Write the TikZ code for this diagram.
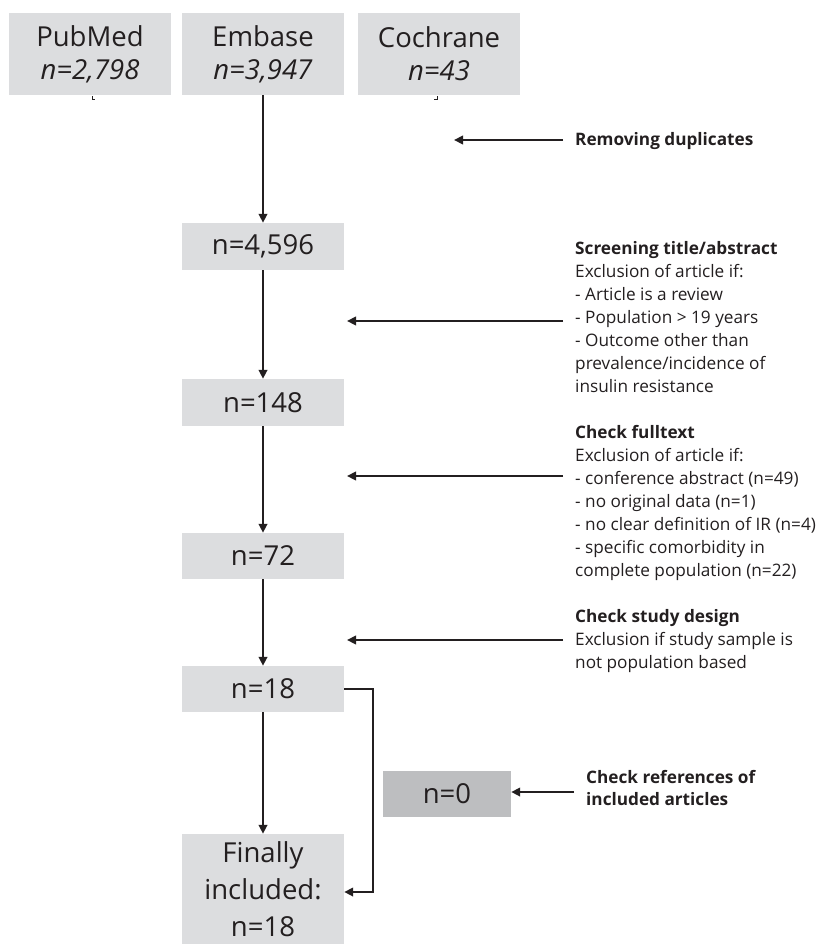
\documentclass[tikz,border=0pt]{standalone}
\usepackage{fontspec}
\setmainfont{Open Sans}
\usetikzlibrary{arrows.meta,positioning}
\definecolor{ink}{HTML}{231F20}
\definecolor{boxgray}{HTML}{DCDDDF}
\definecolor{darkgray}{HTML}{BDBEC0}

\begin{document}
\begin{tikzpicture}[x=1pt, y=-1pt,
    box/.style={fill=boxgray, text=ink, minimum width=162pt, inner sep=0pt, align=center,
        font=\fontsize{27.5}{33}\selectfont},
    note/.style={text=ink, inner sep=0pt, align=left, anchor=north west,
        font=\fontsize{17.2}{23}\selectfont},
    arr/.style={draw=ink, line width=2.6pt, -{Triangle[length=9pt,width=8.5pt]}}]
    \useasboundingbox (0,0) rectangle (828,945);
    % sources
    \node[box, minimum height=82pt] (pubmed) at (90,54) {PubMed\\\textit{n=2,798}};
    \node[box, minimum height=82pt] (embase) at (263,54) {Embase\\\textit{n=3,947}};
    \node[box, minimum height=82pt] (cochrane) at (439,54) {Cochrane\\\textit{n=43}};
    \draw[ink, line width=1pt] (92,96) -- (92,99) -- (95,99);
    \draw[ink, line width=1pt] (437,96) -- (437,99) -- (434,99);
    % main column
    \node[box, minimum height=47pt] (n4596) at (263,246.5) {n=4,596};
    \node[box, minimum height=47pt] (n148) at (263,402.5) {n=148};
    \node[box, minimum height=46pt] (n72) at (263,556) {n=72};
    \node[box, minimum height=46pt] (n18) at (263,689) {n=18};
    \node[box, minimum height=110pt, font=\fontsize{27.5}{37}\selectfont] (final) at (263,889)
        {Finally\\included:\\n=18};
    \node[box, fill=darkgray, minimum width=128pt, minimum height=46pt] (n0) at (447,794) {n=0};
    \draw[arr] (embase) -- (n4596);
    \draw[arr] (n4596) -- (n148);
    \draw[arr] (n148) -- (n72);
    \draw[arr] (n72) -- (n18);
    \draw[arr] (n18) -- (final);
    \coordinate (bend) at (373,689);
    \draw[arr] (n18.east) -- (bend) |- ([yshift=-3pt]final.east);
    % exclusion steps
    \node[note, anchor=west] (dup) at (575,141) {\textbf{Removing duplicates}};
    \coordinate (dupStart) at (563,140);
    \coordinate (dupTip) at (454,140);
    \draw[arr] (dupStart) -- (dupTip);
    \node[note] (screen) at (575,241) {\textbf{Screening title/abstract}\\Exclusion of article if:\\
        - Article is a review\\- Population > 19 years\\- Outcome other than\\
        prevalence/incidence of\\insulin resistance};
    \coordinate (screenStart) at (563,321);
    \coordinate (screenTip) at (347,321);
    \draw[arr] (screenStart) -- (screenTip);
    \node[note] (full) at (575,425) {\textbf{Check fulltext}\\Exclusion of article if:\\
        - conference abstract (n=49)\\- no original data (n=1)\\
        - no clear definition of IR (n=4)\\- specific comorbidity in\\
        complete population (n=22)};
    \coordinate (fullStart) at (563,476);
    \coordinate (fullTip) at (347,476);
    \draw[arr] (fullStart) -- (fullTip);
    \node[note] (design) at (575,609) {\textbf{Check study design}\\
        Exclusion if study sample is\\not population based};
    \coordinate (designStart) at (563,640);
    \coordinate (designTip) at (347,640);
    \draw[arr] (designStart) -- (designTip);
    \node[note, font=\bfseries\fontsize{17.2}{22}\selectfont] (refs) at (586,770)
        {Check references of\\included articles};
    \coordinate (refStart) at (574,792);
    \draw[arr] (refStart) -- (refStart -| n0.east);
\end{tikzpicture}
\end{document}
